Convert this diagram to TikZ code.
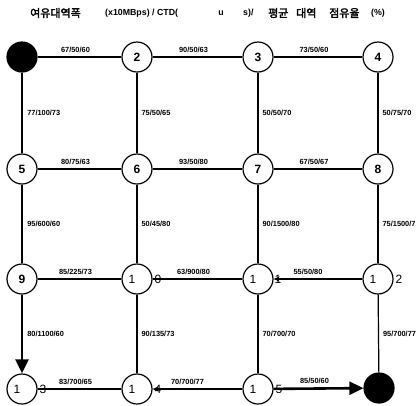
\documentclass[tikz,border=0pt]{standalone}
\usepackage{fontspec}
\setmainfont{Liberation Sans}
\newfontfamily\krfont[AutoFakeBold=2.5]{Noto Sans CJK KR}
\usetikzlibrary{arrows.meta}
\tikzset{
  nd/.style={circle, draw, line width=1.2pt, minimum size=30pt, inner sep=0pt, fill=white, font=\fontsize{12}{12}\selectfont\bfseries},
  blk/.style={nd, fill=black},
  dg/.style={inner sep=0pt, font=\fontsize{12}{12}\selectfont},
  ln/.style={line width=1.2pt},
  thk/.style={line width=2.6pt},
  lbl/.style={font=\fontsize{7.4}{8}\selectfont\bfseries, inner sep=1pt},
  hl/.style={lbl, midway, above=2.5pt, xshift=-4pt},
  vl/.style={lbl, midway, right=3pt},
  ttl/.style={inner sep=0pt, anchor=west, font=\fontsize{8.8}{9}\selectfont\bfseries},
  kr/.style={inner sep=0pt, anchor=west, font=\fontsize{11}{11}\selectfont\krfont\bfseries},
  bigtip/.style={-{Triangle[length=14pt,width=13pt]}},
  smalltip/.style={-{Stealth[length=6pt,width=5pt]}}
}
\begin{document}
\begin{tikzpicture}[x=1pt,y=-1pt]
\useasboundingbox (0,0) rectangle (420,405);
% title
\node[kr] (k1) at (30,13) {여유대역폭};
\node[ttl] (t1) at (105,13) {(x10MBps) / CTD(};
\node[ttl, anchor=center] (t2) at (221,13) {u};
\node[ttl] (t3) at (243,13) {s)/};
\node[kr] (k2) at (268,13) {평균};
\node[kr] (k3) at (296,13) {대역};
\node[kr] (k4) at (329,13) {점유율};
\node[ttl] (t4) at (371,13) {(\%)};
% nodes
\node[blk] (n1) at (22,57) {};
\node[nd] (n2) at (137,57) {2};
\node[nd] (n3) at (258,57) {3};
\node[nd] (n4) at (378,57) {4};
\node[nd] (n5) at (22,169) {5};
\node[nd] (n6) at (137,169) {6};
\node[nd] (n7) at (258,169) {7};
\node[nd] (n8) at (378,169) {8};
\node[nd] (n9) at (22,279) {9};
\node[nd] (n10) at (137,279) {};
\node[nd] (n11) at (258,279) {};
\node[nd] (n12) at (378,279) {};
\node[nd] (n13) at (22,389) {};
\node[nd] (n14) at (137,389) {};
\node[nd] (n15) at (258,389) {};
\node[blk] (n16) at (379,388) {};
% edges row 1
\draw[ln] (n1) -- (n2) node[hl] {67/50/60};
\draw[ln] (n2) -- (n3) node[hl] {90/50/63};
\draw[ln] (n3) -- (n4) node[hl] {73/50/60};
% verticals 1-2
\draw[thk] (n1) -- (n5) node[vl] {77/100/73};
\draw[ln] (n2) -- (n6) node[vl] {75/50/65};
\draw[ln] (n3) -- (n7) node[vl] {50/50/70};
\draw[ln] (n4) -- (n8) node[vl] {50/75/70};
% row 2
\draw[ln] (n5) -- (n6) node[hl] {80/75/63};
\draw[ln] (n6) -- (n7) node[hl] {93/50/80};
\draw[ln] (n7) -- (n8) node[hl] {67/50/67};
% verticals 2-3
\draw[thk] (n5) -- (n9) node[vl] {95/600/60};
\draw[ln] (n6) -- (n10) node[vl] {50/45/80};
\draw[ln] (n7) -- (n11) node[vl] {90/1500/80};
\draw[ln] (n8) -- (n12) node[vl] {75/1500/7};
% row 3
\draw[ln] (n9) -- (n10) node[hl] {85/225/73};
\draw[thk] (n10) -- (n11) node[hl] {63/900/80};
\draw[ln, line width=1.8pt, smalltip] (n12) -- (n11) node[hl, xshift=-6pt] {55/50/80};
% verticals 3-4
\draw[thk, bigtip] (n9) -- (n13) node[vl] {80/1100/60};
\draw[ln] (n10) -- (n14) node[vl] {90/135/73};
\draw[ln] (n11) -- (n15) node[vl] {70/700/70};
\draw[ln] (n12) -- (n16) node[vl] {95/700/77};
% row 4
\draw[thk] (n13) -- (n14) node[hl] {83/700/65};
\draw[thk, smalltip] (n15) -- (n14) node[hl, xshift=-6pt] {70/700/77};
\draw[thk, bigtip] (n15) -- (n16) node[hl] {85/50/60};
% split node numbers
\node[dg] (d10a) at ([xshift=-5pt]n10.center) {1};
\node[dg] (d10b) at ([xshift=21pt]n10.center) {0};
\node[dg] (d11a) at ([xshift=-5pt]n11.center) {1};
\node[dg] (d11b) at ([xshift=20pt]n11.center) {1};
\node[dg] (d12a) at ([xshift=-5pt]n12.center) {1};
\node[dg] (d12b) at ([xshift=21pt]n12.center) {2};
\node[dg] (d13a) at ([xshift=-5pt]n13.center) {1};
\node[dg] (d13b) at ([xshift=21pt]n13.center) {3};
\node[dg] (d14a) at ([xshift=-5pt]n14.center) {1};
\node[dg] (d14b) at ([xshift=21pt]n14.center) {4};
\node[dg] (d15a) at ([xshift=-5pt]n15.center) {1};
\node[dg] (d15b) at ([xshift=21pt]n15.center) {5};
\end{tikzpicture}
\end{document}
